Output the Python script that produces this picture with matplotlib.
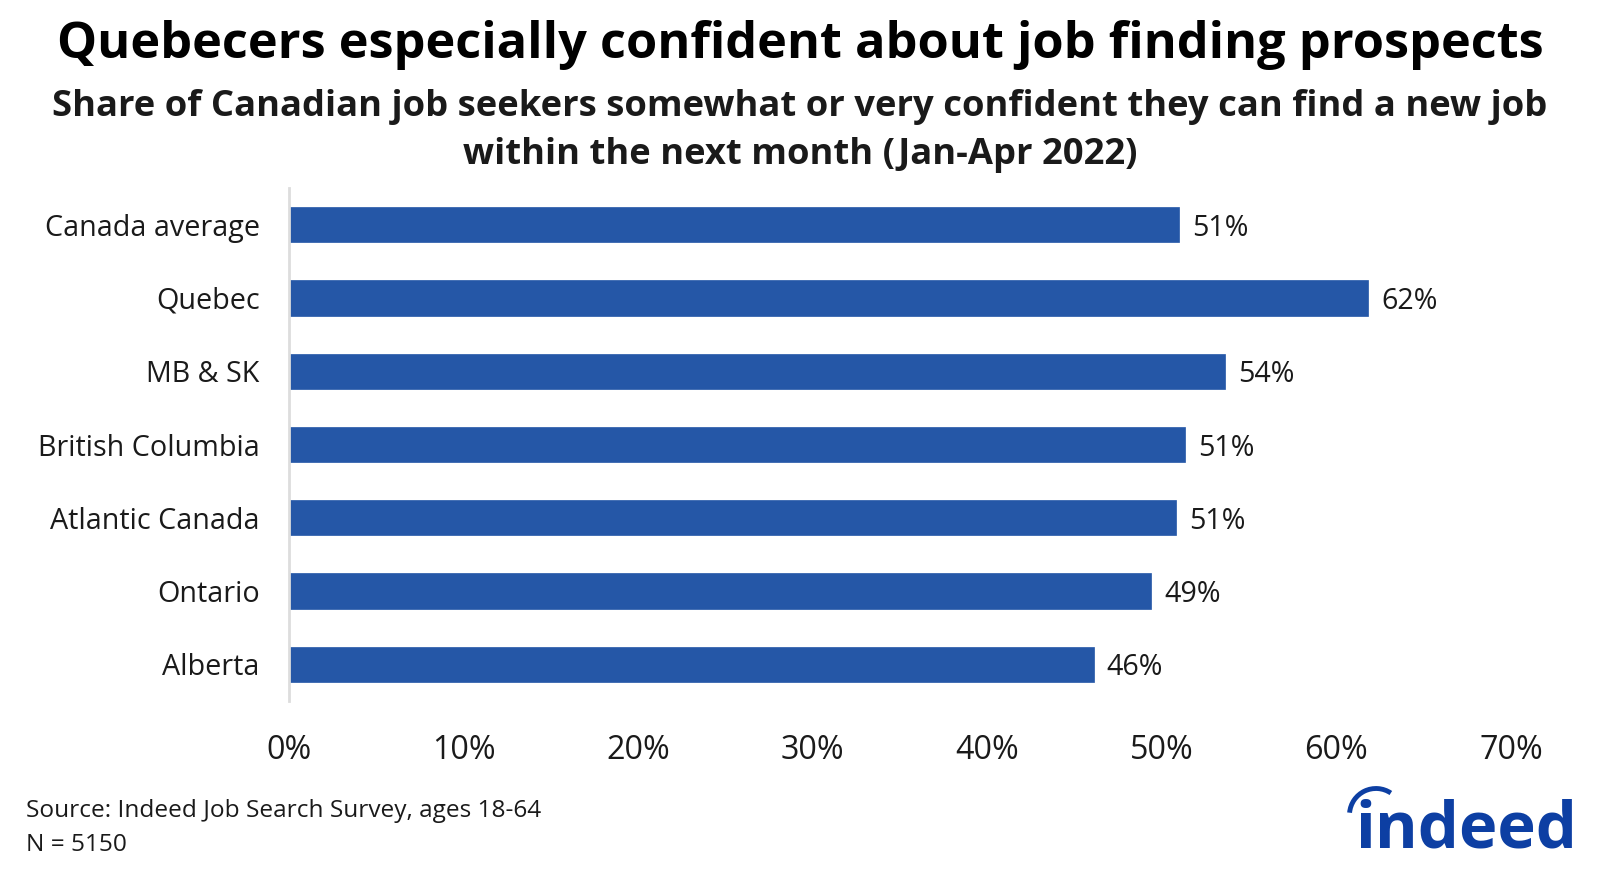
import matplotlib
matplotlib.use("Agg")
import matplotlib.pyplot as plt
from matplotlib.patches import Arc

plt.rcParams['font.family'] = ['Open Sans', 'Noto Sans', 'DejaVu Sans']

categories = ["Canada average", "Quebec", "MB & SK", "British Columbia",
              "Atlantic Canada", "Ontario", "Alberta"]
values = [51.0, 61.8, 53.6, 51.3, 50.8, 49.4, 46.1]
labels = ["51%", "62%", "54%", "51%", "51%", "49%", "46%"]
xticks = [0, 10, 20, 30, 40, 50, 60, 70]
xticklabels = ["0%", "10%", "20%", "30%", "40%", "50%", "60%", "70%"]

W, H = 1600, 874
fig = plt.figure(figsize=(W / 100, H / 100), dpi=100)
ax = fig.add_axes([289 / W, 1 - 701 / H, (1511 - 289) / W, (701 - 188) / H])

bar_color = "#2557A7"
text_color = "#1a1a1a"
ypos = list(range(len(categories)))
ax.barh(ypos, values, height=0.48, color=bar_color, edgecolor=bar_color, linewidth=0.5)
ax.set_ylim(len(categories) - 0.5, -0.5)
ax.set_xlim(0, 70)
for y, v, lab in zip(ypos, values, labels):
    ax.text(v + 0.75, y, lab, va="center_baseline", ha="left", fontsize=20.6, color=text_color)

ax.set_yticks(ypos)
ax.set_yticklabels(categories, fontsize=20.7, color=text_color, va="center_baseline")
ax.set_xticks(xticks)
ax.set_xticklabels(xticklabels, fontsize=23.2, color=text_color)
ax.tick_params(axis="both", length=0)
ax.tick_params(axis="y", pad=21)
ax.tick_params(axis="x", pad=23.5)
for s in ["top", "right", "bottom"]:
    ax.spines[s].set_visible(False)
ax.spines["left"].set_color("#dddddd")
ax.spines["left"].set_linewidth(2)

fig.text(0.5, 1 - 45 / H, "Quebecers especially confident about job finding prospects",
         ha="center", va="center", fontsize=36.4, fontweight="bold", color="#000000")
fig.text(0.5, 1 - 131 / H,
         "Share of Canadian job seekers somewhat or very confident they can find a new job\nwithin the next month (Jan-Apr 2022)",
         ha="center", va="center", fontsize=26.2, fontweight="bold", color="#1a1a1a",
         linespacing=1.47)

fig.text(26 / W, 1 - 811 / H, "Source: Indeed Job Search Survey, ages 18-64",
         ha="left", va="center", fontsize=17.6, color=text_color)
fig.text(26 / W, 1 - 845 / H, "N = 5150",
         ha="left", va="center", fontsize=17.6, color=text_color)

logo_color = "#0D3FA3"
fig.text(1577 / W, 1 - 848 / H, "indeed", ha="right", va="baseline",
         fontsize=47, fontweight="bold", color=logo_color)
lax = fig.add_axes([0, 0, 1, 1], facecolor="none")
lax.set_xlim(0, W)
lax.set_ylim(H, 0)
lax.axis("off")
lax.add_patch(Arc((1376, 815), 53, 53, theta1=185, theta2=304,
                  color=logo_color, linewidth=3.5))

fig.savefig("out.png", dpi=100, facecolor="white")
